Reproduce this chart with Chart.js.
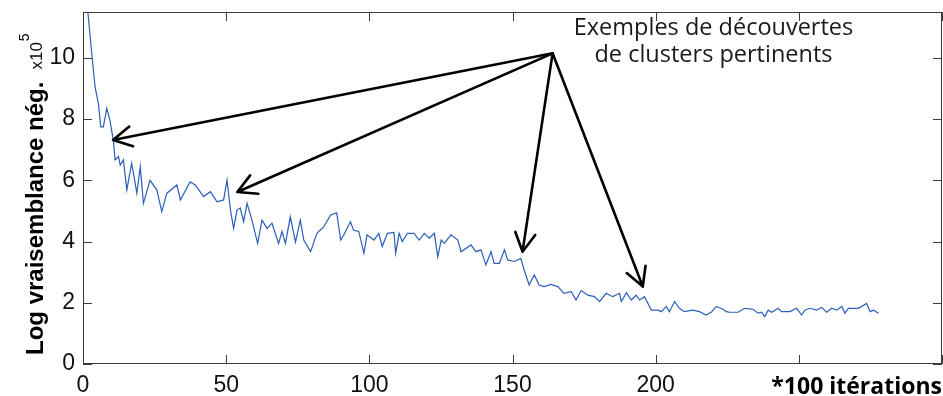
<!DOCTYPE html>
<html>
<head>
<meta charset="utf-8">
<script src="https://cdn.jsdelivr.net/npm/chart.js@4"></script>
<style>
  html, body { margin: 0; padding: 0; background: #fff; }
</style>
</head>
<body>
<canvas id="chart" width="943" height="396"></canvas>
<script>
// x in units of 100 iterations, y in units of 1e5
const iterations = [
  1, 3, 4.2, 5.4, 6.2, 7.1, 8.3, 9.4, 10.6, 11.2,
  12.4, 13, 14.1, 15.3, 17, 18.8, 20, 21.1, 23.4, 25.8,
  27.5, 29.3, 32.8, 34, 37.4, 39.2, 42.1, 44.5, 46.8, 49.1,
  50.3, 51.5, 52.6, 53.8, 54.9, 56.1, 57.3, 59, 61, 62.5,
  64.3, 66, 68.3, 69.5, 70.7, 72.4, 74.2, 75.9, 77.1, 79.5,
  81.7, 84.1, 86.5, 88.6, 90, 91.1, 93.4, 94.5, 96.3, 98.1,
  99.2, 101.6, 103.3, 104.5, 106.3, 108.6, 109.2, 110.4, 111.5, 113.3,
  115.6, 117.4, 119.2, 120.9, 122.7, 123.9, 125.1, 126.2, 128.5, 130.9,
  132, 135.5, 137.2, 139, 140.7, 142.5, 143.6, 145.4, 147.2, 148.3,
  150.6, 152.9, 154.1, 155.8, 157.6, 159.3, 161.1, 163.4, 165.8, 168,
  170.5, 172.2, 174, 176.3, 178.6, 180.4, 182.7, 185, 187.4, 188,
  189.8, 191.5, 193.2, 194.4, 196.1, 198.5, 200.8, 202, 203.7, 204.8,
  206.6, 208.3, 210, 213, 215.3, 217.6, 219.5, 221.2, 223.5, 224.7,
  225.9, 228.8, 231.1, 234, 235.8, 237, 238.1, 239.3, 240.5, 242.8,
  244, 246.9, 249.2, 251, 252.1, 253.9, 256.2, 258, 259.7, 261.5,
  263.2, 265, 266.1, 267.3, 270.8, 273.7, 274.9, 276.1, 277.8
];
const logVrais = [
  12.2, 10.2, 9.06, 8.5, 7.75, 7.75, 8.35, 7.97, 7.3, 6.67,
  6.78, 6.5, 6.67, 5.69, 6.56, 5.58, 6.45, 5.25, 6.0, 5.69,
  4.98, 5.58, 5.85, 5.36, 5.95, 5.85, 5.47, 5.63, 5.3, 5.36,
  6.01, 5.03, 4.43, 5.03, 5.1, 4.65, 5.25, 4.7, 3.94, 4.7,
  4.43, 4.6, 3.94, 4.33, 3.94, 4.81, 3.98, 4.7, 4.05, 3.67,
  4.27, 4.49, 4.87, 4.94, 4.05, 4.22, 4.65, 4.37, 4.33, 3.62,
  4.22, 4.05, 4.27, 3.84, 4.27, 4.3, 3.62, 4.27, 4.0, 4.27,
  4.27, 4.05, 4.27, 4.11, 4.27, 3.5, 4.05, 3.94, 4.22, 4.05,
  3.67, 3.89, 3.67, 3.73, 3.24, 3.67, 3.29, 3.29, 3.73, 3.4,
  3.35, 3.45, 3.07, 2.58, 2.91, 2.58, 2.53, 2.6, 2.53, 2.31,
  2.36, 2.09, 2.4, 2.25, 2.2, 2.04, 2.31, 2.2, 2.31, 2.04,
  2.33, 2.09, 2.25, 2.09, 2.2, 1.76, 1.76, 1.71, 1.88, 1.71,
  2.04, 1.82, 1.71, 1.76, 1.71, 1.6, 1.7, 1.88, 1.79, 1.71,
  1.69, 1.69, 1.82, 1.79, 1.66, 1.69, 1.55, 1.76, 1.69, 1.82,
  1.71, 1.71, 1.82, 1.6, 1.76, 1.82, 1.76, 1.85, 1.69, 1.82,
  1.76, 1.88, 1.66, 1.82, 1.82, 1.98, 1.71, 1.76, 1.66
];

// annotation: arrows start from one point and end on these points
const arrowFrom = { x: 164, y: 10.15 };
const arrowTipX = [10.5, 53.9, 153.5, 195.5];
const arrowTipY = [7.32, 5.62, 3.67, 2.53];
const noteLines = ["Exemples de découvertes", "de clusters pertinents"];
const noteX = 220.2;
const noteY = [10.75, 9.87];

const yTitle = "Log vraisemblance nég.";
const yExpo = "x10";
const yExpoPow = "5";
const xTitle = "*100 itérations";

const tickFont = '"Liberation Sans", Arial, sans-serif';
const noteFont = '"Open Sans", "Liberation Sans", sans-serif';

const boxPlugin = {
  id: "box",
  afterDraw(chart) {
    const { ctx, chartArea: a, scales } = chart;
    const sx = scales.x, sy = scales.y;
    ctx.save();
    // frame
    ctx.strokeStyle = "#3a3a3a";
    ctx.lineWidth = 1;
    ctx.strokeRect(a.left + 0.5, a.top + 0.5, a.right - a.left - 1, a.bottom - a.top - 1);
    // inner ticks on all sides
    const tl = 9;
    ctx.beginPath();
    sx.ticks.forEach(t => {
      const px = Math.round(sx.getPixelForValue(t.value)) + 0.5;
      ctx.moveTo(px, a.bottom); ctx.lineTo(px, a.bottom - tl);
      ctx.moveTo(px, a.top); ctx.lineTo(px, a.top + tl);
    });
    sy.ticks.forEach(t => {
      const py = Math.round(sy.getPixelForValue(t.value)) + 0.5;
      ctx.moveTo(a.left, py); ctx.lineTo(a.left + tl, py);
      ctx.moveTo(a.right, py); ctx.lineTo(a.right - tl, py);
    });
    ctx.stroke();

    // arrows
    const ox = sx.getPixelForValue(arrowFrom.x), oy = sy.getPixelForValue(arrowFrom.y);
    ctx.strokeStyle = "#000";
    ctx.lineWidth = 2.6;
    ctx.lineCap = "round";
    ctx.lineJoin = "round";
    arrowTipX.forEach((vx, i) => {
      const tx = sx.getPixelForValue(vx), ty = sy.getPixelForValue(arrowTipY[i]);
      const ang = Math.atan2(ty - oy, tx - ox);
      const hl = 21, ha = 0.5;
      ctx.beginPath();
      ctx.moveTo(ox, oy); ctx.lineTo(tx, ty);
      ctx.moveTo(tx - hl * Math.cos(ang - ha), ty - hl * Math.sin(ang - ha));
      ctx.lineTo(tx, ty);
      ctx.lineTo(tx - hl * Math.cos(ang + ha), ty - hl * Math.sin(ang + ha));
      ctx.stroke();
    });

    // note text
    ctx.fillStyle = "#1a1a1a";
    ctx.font = "23.5px " + noteFont;
    ctx.textAlign = "center";
    ctx.textBaseline = "alphabetic";
    noteLines.forEach((s, i) => {
      ctx.fillText(s, sx.getPixelForValue(noteX), sy.getPixelForValue(noteY[i]));
    });

    // x axis title (replaces the 250 label)
    ctx.font = "bold 23px " + noteFont;
    ctx.textAlign = "right";
    ctx.fillStyle = "#000";
    ctx.fillText(xTitle, chart.width - 1, chart.height - 2);

    // y axis title, rotated
    ctx.translate(43, a.bottom - 9);
    ctx.rotate(-Math.PI / 2);
    ctx.textAlign = "left";
    ctx.font = "bold 24px " + tickFont;
    ctx.fillText(yTitle, 0, 0);
    let w = ctx.measureText(yTitle).width + 12;
    ctx.font = "17px " + tickFont;
    ctx.fillText(yExpo, w, -1);
    w += ctx.measureText(yExpo).width;
    ctx.font = "14px " + tickFont;
    ctx.fillText(yExpoPow, w + 1, -14);
    ctx.restore();
  }
};

new Chart(document.getElementById("chart"), {
  type: "line",
  data: {
    datasets: [{
      data: iterations.map((v, i) => ({ x: v, y: logVrais[i] })),
      borderColor: "#2d5fba",
      borderWidth: 1.2,
      pointRadius: 0,
      tension: 0,
      fill: false
    }]
  },
  options: {
    responsive: false,
    animation: false,
    layout: { padding: { top: 12, right: 1, left: 0, bottom: 0 } },
    plugins: { legend: { display: false }, tooltip: { enabled: false } },
    scales: {
      x: {
        type: "linear",
        min: 0, max: 300,
        grid: { display: false, drawTicks: false },
        border: { display: false },
        ticks: {
          stepSize: 50, includeBounds: false, padding: 8, maxRotation: 0,
          color: "#111", font: { family: tickFont, size: 23 },
          callback: v => (v <= 200 ? String(v) : "")
        },
        afterFit: s => { s.height = 32; s.paddingLeft = 0; s.paddingRight = 0; }
      },
      y: {
        min: 0, max: 11.5,
        grid: { display: false, drawTicks: false },
        border: { display: false },
        ticks: {
          stepSize: 2, includeBounds: false, padding: 8,
          color: "#111", font: { family: tickFont, size: 23 }
        },
        afterFit: s => { s.width = 83; s.paddingTop = 0; s.paddingBottom = 0; }
      }
    }
  },
  plugins: [boxPlugin]
});
</script>
</body>
</html>
